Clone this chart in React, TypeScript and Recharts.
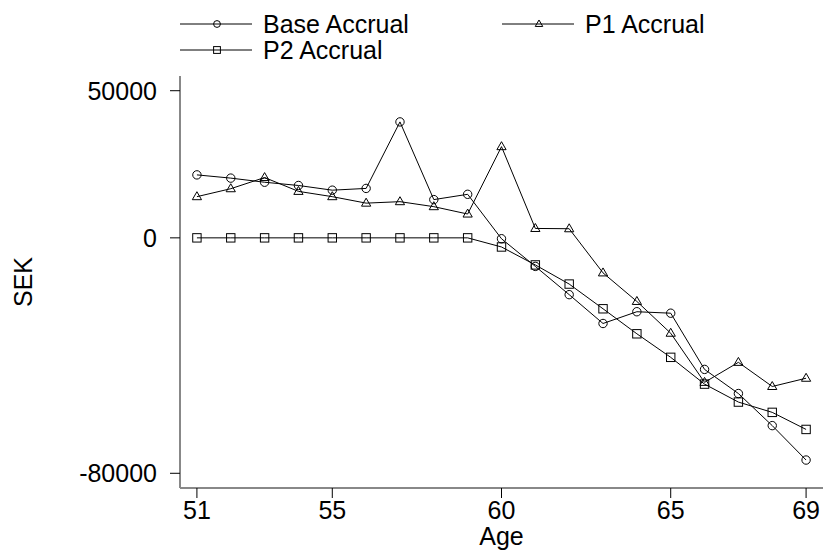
import { LineChart, Line, XAxis, YAxis } from "recharts";

const ages = [51, 52, 53, 54, 55, 56, 57, 58, 59, 60, 61, 62, 63, 64, 65, 66, 67, 68, 69];
const baseAccrual = [21400, 20300, 18900, 17800, 16200, 16800, 39400, 13000, 14800, -300, -9700, -19300, -29100, -25100, -25600, -44700, -52900, -63800, -75500];
const p1Accrual = [14000, 16700, 20500, 15800, 14000, 11800, 12300, 10600, 8100, 31000, 3200, 3100, -11900, -21600, -32400, -49100, -42300, -50500, -47700];
const p2Accrual = [0, 0, 0, 0, 0, 0, 0, 0, 0, -3100, -9200, -15700, -24100, -32600, -40600, -49700, -55800, -59300, -65100];
const xTicks = [51, 55, 60, 65, 69];
const yTicks = [-80000, 0, 50000];

const data = ages.map((age, i) => ({
  age,
  base: baseAccrual[i],
  p1: p1Accrual[i],
  p2: p2Accrual[i],
}));

type Kind = "circle" | "triangle" | "square";

const FONT = "'Liberation Sans', Arial, sans-serif";

const marker = (kind: Kind, cx: number, cy: number, s: number, key?: string | number) => {
  if (kind === "circle") {
    return <circle key={key} cx={cx} cy={cy} r={s} fill="none" stroke="#000" strokeWidth={1} />;
  }
  if (kind === "square") {
    return <rect key={key} x={cx - s} y={cy - s} width={s * 2} height={s * 2} fill="none" stroke="#000" strokeWidth={1} />;
  }
  const h = s * 1.9;
  return (
    <polygon
      key={key}
      points={`${cx},${cy - h * 0.62} ${cx - s * 1.1},${cy + h * 0.38} ${cx + s * 1.1},${cy + h * 0.38}`}
      fill="none"
      stroke="#000"
      strokeWidth={1}
    />
  );
};

const dot = (kind: Kind) => (props: any) => marker(kind, props.cx, props.cy, 4.2, props.index);

const series = [
  { key: "base", name: "Base Accrual", kind: "circle" as Kind, col: 0, row: 0 },
  { key: "p1", name: "P1 Accrual", kind: "triangle" as Kind, col: 1, row: 0 },
  { key: "p2", name: "P2 Accrual", kind: "square" as Kind, col: 0, row: 1 },
];

const legendCols = [180, 502];
const legendRows = [24, 50];

const ChartLegend = () => (
  <svg width={826} height={70} style={{ position: "absolute", left: 0, top: 0 }}>
    {series.map((s) => {
      const x = legendCols[s.col];
      const y = legendRows[s.row];
      return (
        <g key={s.key}>
          <line x1={x} x2={x + 72} y1={y} y2={y} stroke="#000" strokeWidth={1} />
          {marker(s.kind, x + 37, y, 3.4)}
          <text x={x + 83} y={y + 8.5} fontSize={25} fontFamily={FONT} fill="#000">
            {s.name}
          </text>
        </g>
      );
    })}
  </svg>
);

export default function App() {
  return (
    <div style={{ position: "absolute", left: 0, top: 0, width: 826, height: 556, background: "#fff" }}>
      <LineChart width={826} height={556} data={data} margin={{ top: 76, right: 3, bottom: 0, left: 0 }}>
        <XAxis
          type="number"
          dataKey="age"
          domain={[50.5, 69.5]}
          ticks={xTicks}
          interval={0}
          allowDataOverflow
          height={68}
          tickSize={10}
          tickMargin={3}
          axisLine={{ stroke: "#888", strokeWidth: 2 }}
          tickLine={{ stroke: "#000" }}
          tick={{ fill: "#000", fontSize: 25, fontFamily: FONT }}
          label={{
            content: (p: any) => (
              <text
                x={p.viewBox.x + p.viewBox.width / 2}
                y={p.viewBox.y + 57}
                textAnchor="middle"
                fontSize={25}
                fontFamily={FONT}
                fill="#000"
              >
                Age
              </text>
            ),
          }}
        />
        <YAxis
          type="number"
          width={180}
          domain={[-85000, 55000]}
          ticks={yTicks}
          interval={0}
          allowDataOverflow
          tickSize={10}
          tickMargin={13}
          axisLine={{ stroke: "#888", strokeWidth: 2 }}
          tickLine={{ stroke: "#000" }}
          tick={{ fill: "#000", fontSize: 25, fontFamily: FONT }}
          label={{
            content: (p: any) => {
              const cy = p.viewBox.y + p.viewBox.height / 2;
              return (
                <text
                  x={32}
                  y={cy}
                  transform={`rotate(-90, 32, ${cy})`}
                  textAnchor="middle"
                  fontSize={25}
                  fontFamily={FONT}
                  fill="#000"
                >
                  SEK
                </text>
              );
            },
          }}
        />
        {series.map((s) => (
          <Line
            key={s.key}
            type="linear"
            dataKey={s.key}
            name={s.name}
            stroke="#000"
            strokeWidth={1}
            dot={dot(s.kind)}
            activeDot={false}
            isAnimationActive={false}
          />
        ))}
      </LineChart>
      <ChartLegend />
    </div>
  );
}
